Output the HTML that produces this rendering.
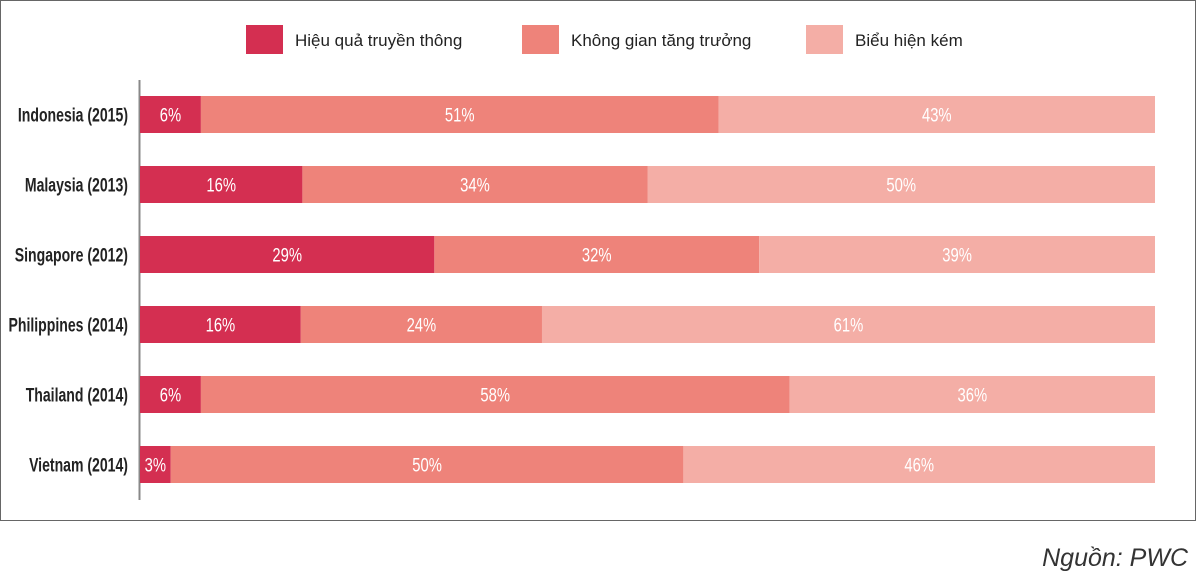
<!DOCTYPE html>
<html><head><meta charset="utf-8"><style>
body{margin:0;background:#fff;}
svg{display:block;}
.t{font-family:"Liberation Sans",sans-serif;}
</style></head><body>
<svg id="c" width="1200" height="578">
<rect x="0.5" y="0.5" width="1195" height="520" fill="#fff" stroke="#666"/>
<g id="legend"></g>
<line x1="139.5" y1="80" x2="139.5" y2="500" stroke="#888" stroke-width="2"/>
<g id="bars"></g>
<text x="1188" y="566" text-anchor="end" class="t" font-size="25" font-style="italic" fill="#333">Nguồn: PWC</text>
</svg>
<script>
const categories=["Indonesia (2015)","Malaysia (2013)","Singapore (2012)","Philippines (2014)","Thailand (2014)","Vietnam (2014)"];
const seriesNames=["Hiệu quả truyền thông","Không gian tăng trưởng","Biểu hiện kém"];
const effective=[6,16,29,16,6,3];
const growth=[51,34,32,24,58,50];
const weak=[43,50,39,61,36,46];
const colors=["#d42f51","#ee837a","#f4aea6"];
const ns="http://www.w3.org/2000/svg";
const X0=140,W=1015,Y0=96,STEP=70,BH=37;
const bars=document.getElementById('bars');
function mk(t,a,p){const e=document.createElementNS(ns,t);for(const k in a)e.setAttribute(k,a[k]);p.appendChild(e);return e;}
const series=[effective,growth,weak];
categories.forEach((c,i)=>{
  const y=Y0+i*STEP;
  const tot=effective[i]+growth[i]+weak[i];
  const lab=mk('text',{x:0,y:0,transform:`translate(128,${y+BH/2+7}) scale(0.74,1)`,'text-anchor':'end','font-size':19,'font-weight':'bold',fill:'#222',class:'t'},bars);
  lab.textContent=c;
  
  
  let acc=0;
  series.forEach((s,j)=>{
    const x=X0+acc/tot*W,w=s[i]/tot*W;acc+=s[i];
    const r=mk('rect',{x:x,y:y,width:w,height:BH,fill:colors[j]},bars);
    
    
    const t=mk('text',{x:0,y:0,transform:`translate(${x+w/2},${y+BH/2+7}) scale(0.78,1)`,'text-anchor':'middle','font-size':19,fill:'#fff',class:'t'},bars);
    t.textContent=s[i]+'%';
    
    
  });
});
const lg=document.getElementById('legend');
const lx=[246,522,806];
seriesNames.forEach((n,j)=>{
  const r=mk('rect',{x:lx[j],y:25,width:37,height:29,fill:colors[j]},lg);
  
  
  const t=mk('text',{x:lx[j]+49,y:46,'font-size':17,fill:'#222',class:'t'},lg);
  t.textContent=n;
  
  
});
</script>
</body></html>
